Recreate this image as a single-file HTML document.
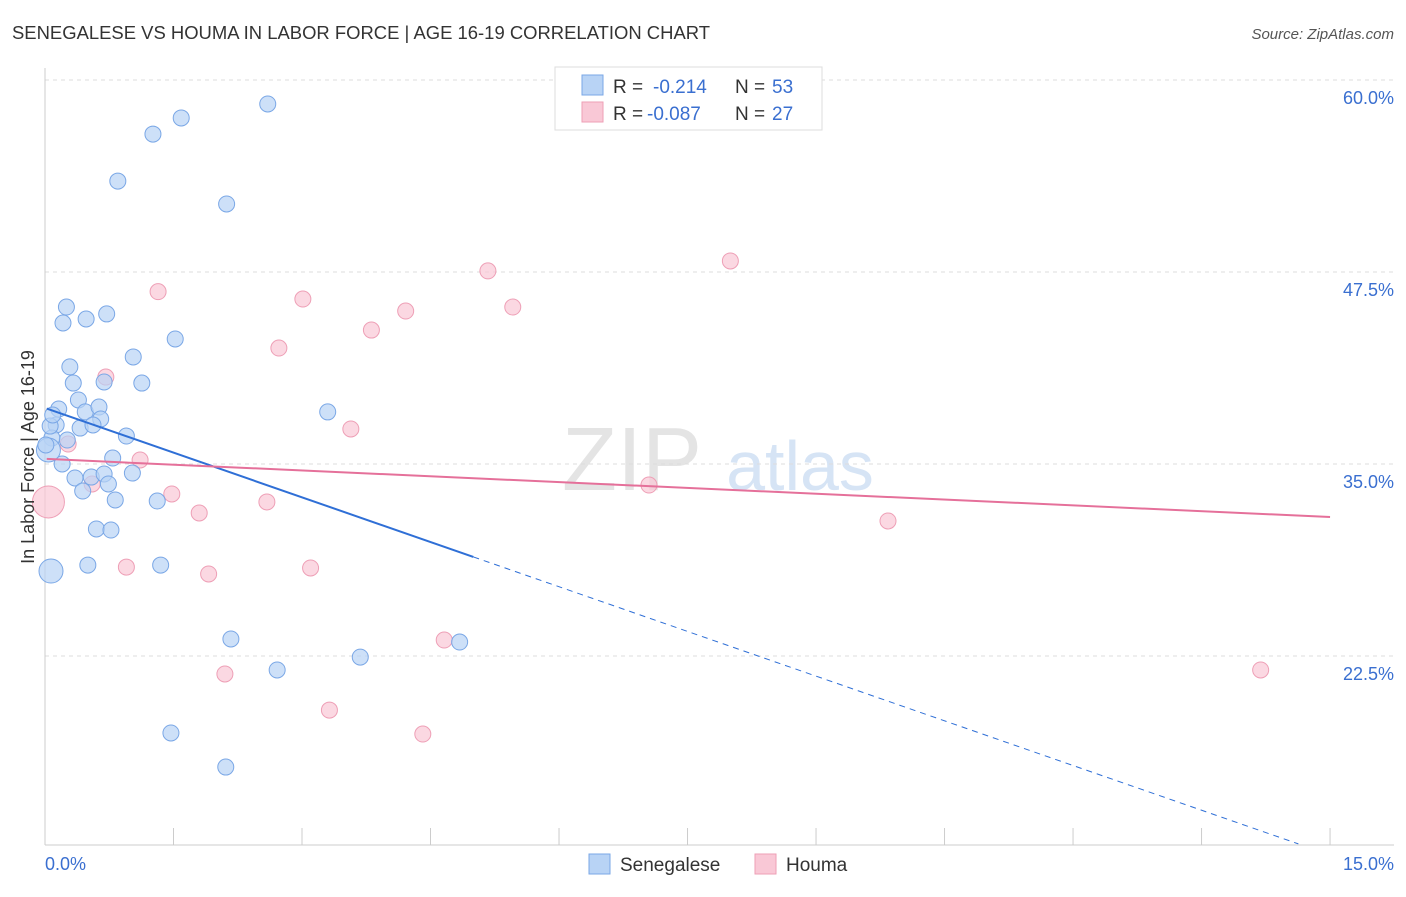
<!DOCTYPE html>
<html><head><meta charset="utf-8"><style>
body{margin:0;background:#fff;font-family:"Liberation Sans",sans-serif;}
svg text{font-family:"Liberation Sans",sans-serif;}
</style></head><body>
<svg id="chart" width="1406" height="892">
<text x="12" y="39" font-size="18" fill="#333" textLength="698" lengthAdjust="spacingAndGlyphs">SENEGALESE VS HOUMA IN LABOR FORCE | AGE 16-19 CORRELATION CHART</text>
<text x="1394" y="39" font-size="15" fill="#555" text-anchor="end" font-style="italic">Source: ZipAtlas.com</text>
<text x="632" y="490" font-size="90" fill="#e4e4e4" font-family="Liberation Serif" text-anchor="middle">ZIP</text>
<text x="800" y="490" font-size="70" fill="#d6e4f5" text-anchor="middle">atlas</text>
<g id="grid"></g>
<g id="axes"></g>
<g id="marks"></g>
<text transform="translate(34,457) rotate(-90)" font-size="18" fill="#333" text-anchor="middle">In Labor Force | Age 16-19</text>
<text x="45" y="870" font-size="18" fill="#3a6fd0">0.0%</text>
<text x="1394" y="870" font-size="18" fill="#3a6fd0" text-anchor="end">15.0%</text>
<g>
<rect x="555" y="67" width="267" height="63" fill="#fff" stroke="#ddd"/>
<rect x="582" y="75" width="21" height="20" fill="#b8d3f5" stroke="#7aa7e6"/>
<rect x="582" y="102" width="21" height="20" fill="#f9c8d6" stroke="#ee9fb6"/>
<text x="613" y="93" font-size="19" fill="#333">R =</text><text x="653" y="93" font-size="19" fill="#3a6fd0">-0.214</text>
<text x="735" y="93" font-size="19" fill="#333">N =</text><text x="772" y="93" font-size="19" fill="#3a6fd0">53</text>
<text x="613" y="120" font-size="19" fill="#333">R =</text><text x="647" y="120" font-size="19" fill="#3a6fd0">-0.087</text>
<text x="735" y="120" font-size="19" fill="#333">N =</text><text x="772" y="120" font-size="19" fill="#3a6fd0">27</text>
</g>
<g>
<rect x="589" y="854" width="21" height="20" fill="#b8d3f5" stroke="#7aa7e6"/>
<text x="620" y="871" font-size="19" fill="#333">Senegalese</text>
<rect x="755" y="854" width="21" height="20" fill="#f9c8d6" stroke="#ee9fb6"/>
<text x="786" y="871" font-size="19" fill="#333">Houma</text>
</g>
</svg>
<script>
const yTicks=[22.5,35,47.5,60];
const yTickLabels=["22.5%","35.0%","47.5%","60.0%"];
const blueX=[2.60,1.59,1.26,0.85,2.12,0.25,0.21,0.48,0.72,1.52,1.03,0.29,0.33,0.69,1.13,0.39,0.16,0.47,0.63,0.65,0.13,0.41,0.56,0.26,0.08,0.95,3.30,0.79,0.20,0.35,0.54,0.69,1.02,0.74,0.44,0.82,1.31,0.60,0.77,0.50,1.35,0.07,2.17,4.84,3.68,2.71,1.47,2.11,0.04,0.06,0.09,0.01];
const blueY=[58.44,57.53,56.48,53.42,51.93,45.22,44.18,44.44,44.77,43.14,41.97,41.32,40.27,40.34,40.27,39.17,38.58,38.39,38.71,37.93,37.54,37.34,37.54,36.56,36.69,36.82,38.39,35.39,35.0,34.09,34.15,34.35,34.41,33.70,33.24,32.66,32.59,30.77,30.70,28.42,28.42,28.03,23.61,23.41,22.43,21.59,17.49,15.27,35.91,37.47,38.19,36.24];
const blueBig=[41,48];
const pinkX=[5.17,8.00,1.32,3.01,4.21,5.46,3.81,2.73,0.71,3.57,0.27,1.11,0.55,1.48,2.59,1.80,7.05,9.84,0.95,1.91,3.10,4.66,2.10,3.32,4.41,14.19,0.04];
const pinkY=[47.57,48.22,46.22,45.74,44.96,45.22,43.72,42.55,40.66,37.28,36.30,35.26,33.70,33.05,32.53,31.81,33.63,31.29,28.29,27.84,28.23,23.54,21.33,18.98,17.42,21.59,32.53];
const pinkBig=[26];
const blueTrend=[38.65,-1.94];
const pinkTrend=[35.33,-0.252];
const NS="http://www.w3.org/2000/svg";
const X=v=>45+v*85.67, Y=v=>80+(60-v)*15.36;
function mk(tag,attrs,parent){const e=document.createElementNS(NS,tag);for(const k in attrs)e.setAttribute(k,attrs[k]);document.getElementById(parent).appendChild(e);return e;}
yTicks.forEach((t,i)=>{
 const g=mk('line',{x1:45,x2:1394,y1:Y(t),y2:Y(t),stroke:'#ddd','stroke-dasharray':'4,4'},'grid');
 
 
 const l=mk('text',{x:1394,y:Y(t)+24,'font-size':18,fill:'#3a6fd0','text-anchor':'end'},'axes');
 l.textContent=yTickLabels[i];
 
 
});
mk('line',{x1:45,x2:45,y1:68,y2:845,stroke:'#ccc'},'axes');
mk('line',{x1:45,x2:1394,y1:845,y2:845,stroke:'#ccc'},'axes');
for(let i=0;i<=10;i++){const t=mk('line',{x1:X(i*1.5),x2:X(i*1.5),y1:828,y2:845,stroke:'#ccc'},'axes');
 
 }
pinkX.forEach((x,i)=>{const c=mk('circle',{cx:X(x),cy:Y(pinkY[i]),r:pinkBig.includes(i)?16:8,fill:'#f9c8d6','fill-opacity':0.7,stroke:'#ee9fb6'},'marks');
 
 });
blueX.forEach((x,i)=>{const c=mk('circle',{cx:X(x),cy:Y(blueY[i]),r:blueBig.includes(i)?12:8,fill:'#b8d3f5','fill-opacity':0.7,stroke:'#7aa7e6'},'marks');
 
 });
const bl=mk('line',{x1:X(0.02),y1:Y(blueTrend[0]+blueTrend[1]*0.02),x2:X(5),y2:Y(blueTrend[0]+blueTrend[1]*5),stroke:'#2f6fd6','stroke-width':2},'marks');


const bd=mk('line',{x1:X(5),y1:Y(blueTrend[0]+blueTrend[1]*5),x2:X(14.63),y2:Y(blueTrend[0]+blueTrend[1]*14.63),stroke:'#2f6fd6','stroke-width':1,'stroke-dasharray':'6,5'},'marks');


const pl=mk('line',{x1:X(0.02),y1:Y(pinkTrend[0]),x2:X(15),y2:Y(pinkTrend[0]+pinkTrend[1]*15),stroke:'#e5709a','stroke-width':2},'marks');


</script>
</body></html>
